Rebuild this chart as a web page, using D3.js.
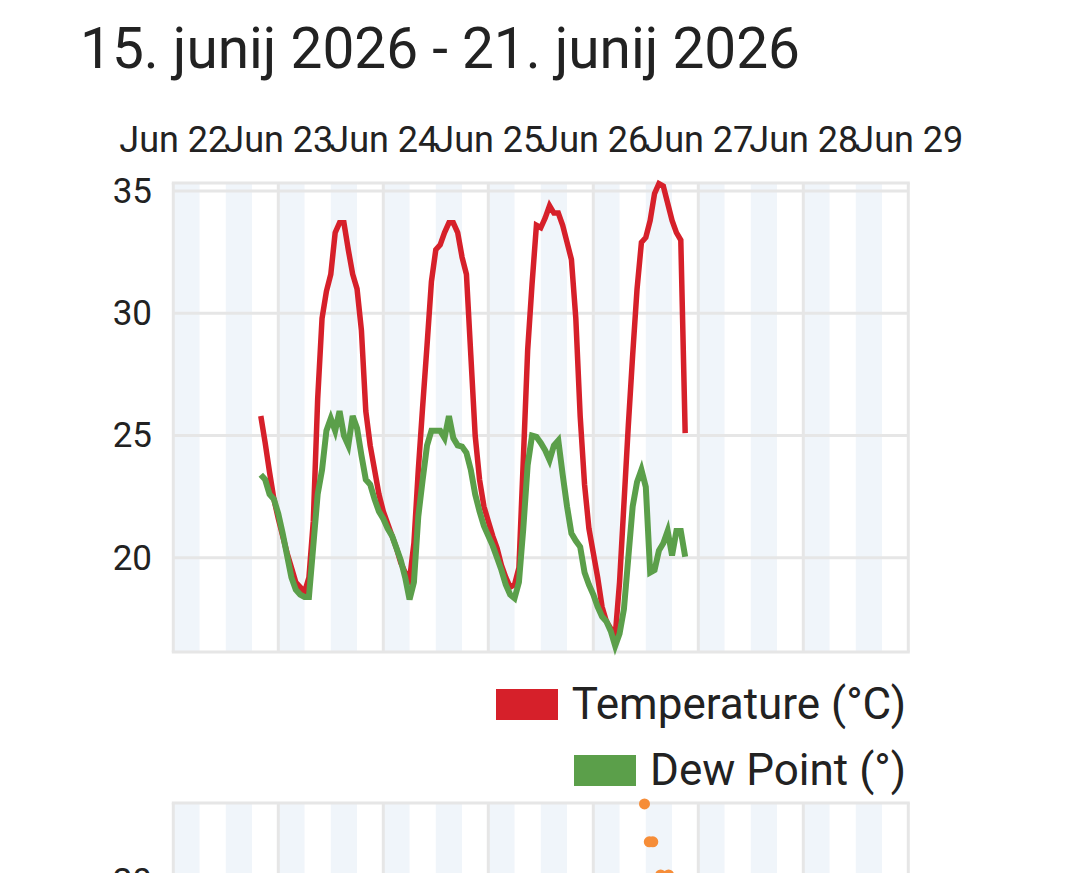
<!DOCTYPE html>
<html>
<head>
<meta charset="utf-8">
<script src="https://cdn.jsdelivr.net/npm/d3@7"></script>
<style>
  html, body { margin: 0; padding: 0; background: #fff; }
  svg { display: block; font-family: Roboto, "Noto Sans", sans-serif; }
</style>
</head>
<body>
<svg id="chart" width="1080" height="873"></svg>
<script>
// ---------- DATA ----------
const titleText = "15. junij 2026 - 21. junij 2026";
const axisStart = new Date(2026, 5, 22);
const axisEnd = new Date(2026, 5, 29);
const seriesStart = new Date(2026, 5, 22, 20); // first hourly reading
const yTicks = [20, 25, 30, 35];
const seriesNames = ["Temperature (°C)", "Dew Point (°)"];
const seriesColors = ["#d6202a", "#5b9f4a"];

// hourly temperature (°C)
const temperature = [
  25.8, 24.7, 23.5, 22.4, 21.6, 20.9, 20.2, 19.6, 19.0, 18.8, 18.6, 19.2,
  21.5, 26.5, 29.8, 30.9, 31.6, 33.3, 33.7, 33.7, 32.6, 31.6, 31.0, 29.3,
  26.0, 24.6, 23.6, 22.6, 21.9, 21.4, 20.9, 20.4, 19.8, 19.4, 19.1, 20.6,
  23.6, 26.2, 28.7, 31.3, 32.6, 32.8, 33.3, 33.7, 33.7, 33.3, 32.3, 31.6,
  28.3, 25.0, 23.2, 22.1, 21.5, 20.9, 20.4, 19.7, 19.2, 18.8, 18.9, 19.6,
  24.0, 28.5, 31.2, 33.6, 33.5, 33.9, 34.4, 34.1, 34.1, 33.6, 32.9, 32.2,
  29.8, 25.8, 23.0, 21.2, 20.2, 19.2, 18.0, 17.4, 17.1, 16.8, 19.0, 22.2,
  25.4, 28.3, 31.0, 32.9, 33.1, 33.8, 34.9, 35.3, 35.2, 34.5, 33.8, 33.3,
  33.0, 25.1
];
// hourly dew point
const dewPoint = [
  23.4, 23.2, 22.6, 22.4, 21.8, 21.0, 20.1, 19.2, 18.7, 18.5, 18.4, 18.4,
  20.5, 22.6, 23.6, 25.2, 25.7, 25.2, 26.0, 25.0, 24.6, 25.8, 25.3, 24.2,
  23.2, 23.0, 22.4, 21.9, 21.6, 21.2, 20.9, 20.4, 19.9, 19.2, 18.3, 19.0,
  21.7, 23.2, 24.6, 25.2, 25.2, 25.2, 24.9, 25.8, 24.9, 24.6, 24.55, 24.3,
  23.6, 22.6, 21.9, 21.3, 20.9, 20.5, 20.0, 19.5, 18.9, 18.5, 18.35, 19.0,
  21.2, 23.8, 25.0, 24.95, 24.7, 24.4, 24.0, 24.6, 24.8, 23.4, 22.1, 21.0,
  20.7, 20.45, 19.4, 18.9, 18.5, 18.0, 17.6, 17.4, 17.0, 16.4, 16.9, 17.9,
  20.0, 22.1, 23.1, 23.6, 22.9, 19.4, 19.5, 20.3, 20.6, 21.1, 20.1, 21.1,
  21.1, 20.05
];

// second (partially visible) panel: orange points
const panel2Hours = [107.7, 108.8, 109.6, 111.4, 113.2];
const panel2Values = [23.15, 21.6, 21.6, 20.25, 20.25];
const panel2Ticks = [20];

// ---------- LAYOUT ----------
const svg = d3.select("#chart");
const left = 173.3, right = 908.3;
const p1Top = 183, p1Bottom = 652;
const p2Top = 803, p2Bottom = 1000;
const gridColor = "#e6e6e6";
const stripeColor = "#f0f5fa";
const textColor = "#222";

const x = d3.scaleTime().domain([axisStart, axisEnd]).range([left, right]);
const y = d3.scaleLinear().domain([16.15, 35.33]).range([p1Bottom, p1Top]);
const y2 = d3.scaleLinear().domain([20, 25]).range([881, 758.7]);

// title
svg.append("text")
  .attr("x", 80).attr("y", 68)
  .attr("font-size", 57).attr("fill", textColor)
  .attr("textLength", 720).attr("lengthAdjust", "spacingAndGlyphs")
  .text(titleText);

function drawPanel(top, bottom) {
  const g = svg.append("g");
  const days = d3.timeDay.range(axisStart, axisEnd);
  const stripes = [];
  days.forEach(d => {
    stripes.push([d, d3.timeHour.offset(d, 6)]);
    stripes.push([d3.timeHour.offset(d, 12), d3.timeHour.offset(d, 18)]);
  });
  g.selectAll("rect.stripe").data(stripes).join("rect")
    .attr("class", "stripe")
    .attr("x", d => x(d[0])).attr("width", d => x(d[1]) - x(d[0]))
    .attr("y", top).attr("height", bottom - top)
    .attr("fill", stripeColor);
  g.selectAll("line.vgrid").data(d3.timeDay.range(axisStart, d3.timeDay.offset(axisEnd, 1))).join("line")
    .attr("class", "vgrid")
    .attr("x1", d => x(d)).attr("x2", d => x(d))
    .attr("y1", top).attr("y2", bottom)
    .attr("stroke", gridColor).attr("stroke-width", 3);
  g.append("line").attr("x1", left - 1.5).attr("x2", right + 1.5)
    .attr("y1", top).attr("y2", top).attr("stroke", gridColor).attr("stroke-width", 3);
  g.append("line").attr("x1", left - 1.5).attr("x2", right + 1.5)
    .attr("y1", bottom).attr("y2", bottom).attr("stroke", gridColor).attr("stroke-width", 3);
  return g;
}

// ---------- PANEL 1 ----------
const g1 = drawPanel(p1Top, p1Bottom);
g1.selectAll("line.hgrid").data(yTicks).join("line")
  .attr("class", "hgrid")
  .attr("x1", left).attr("x2", right)
  .attr("y1", d => y(d)).attr("y2", d => y(d))
  .attr("stroke", gridColor).attr("stroke-width", 3);

// top axis
const topAxis = d3.axisTop(x)
  .tickValues(d3.timeDay.range(axisStart, d3.timeDay.offset(axisEnd, 1)))
  .tickFormat(d3.timeFormat("%b %d"))
  .tickSize(0).tickPadding(0);
const ta = svg.append("g").attr("transform", "translate(0,152)").call(topAxis);
ta.select(".domain").remove();
ta.selectAll("text").attr("font-size", 36).attr("fill", textColor)
  .attr("font-family", "Roboto").attr("dy", 0);

// left axis
const leftAxis = d3.axisLeft(y).tickValues(yTicks).tickSize(0).tickPadding(0);
const la = svg.append("g").attr("transform", "translate(152,0)").call(leftAxis);
la.select(".domain").remove();
la.selectAll("text").attr("font-size", 35).attr("fill", textColor)
  .attr("font-family", "Roboto");

// lines
const times = temperature.map((_, i) => d3.timeHour.offset(seriesStart, i));
const line = d3.line().x((d, i) => x(times[i])).y(d => y(d));
svg.append("path").datum(temperature)
  .attr("d", line).attr("fill", "none")
  .attr("stroke", seriesColors[0]).attr("stroke-width", 5.5);
svg.append("path").datum(dewPoint)
  .attr("d", line).attr("fill", "none")
  .attr("stroke", seriesColors[1]).attr("stroke-width", 6);

// legend
const legendRows = [{ y: 720, swatchX: 496 }, { y: 786, swatchX: 574 }];
seriesNames.forEach((name, i) => {
  const r = legendRows[i];
  svg.append("rect").attr("x", r.swatchX).attr("y", r.y - 31)
    .attr("width", 62).attr("height", 31).attr("fill", seriesColors[i]);
  svg.append("text").attr("x", 906).attr("y", r.y - 1)
    .attr("text-anchor", "end").attr("font-size", 44).attr("fill", textColor)
    .text(name);
});

// ---------- PANEL 2 (cropped) ----------
drawPanel(p2Top, p2Bottom);
const la2 = svg.append("g").attr("transform", "translate(152,0)")
  .call(d3.axisLeft(y2).tickValues(panel2Ticks).tickFormat(d3.format("d")).tickSize(0).tickPadding(0));
la2.select(".domain").remove();
la2.selectAll("text").attr("font-size", 35).attr("fill", textColor).attr("font-family", "Roboto");
svg.selectAll("circle.p2").data(panel2Values).join("circle")
  .attr("class", "p2")
  .attr("cx", (d, i) => x(d3.timeMinute.offset(axisStart, Math.round(panel2Hours[i] * 60))))
  .attr("cy", d => y2(d)).attr("r", 5.5)
  .attr("fill", "#f68d38");
</script>
</body>
</html>
